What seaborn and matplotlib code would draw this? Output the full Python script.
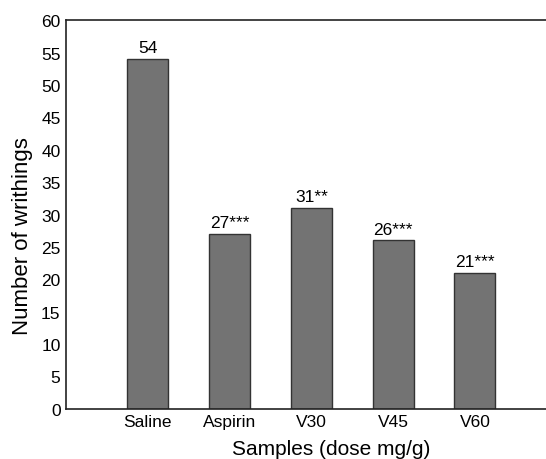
import matplotlib
matplotlib.use("Agg")
import matplotlib.pyplot as plt
import seaborn as sns
import pandas as pd

samples = ["Saline", "Aspirin", "V30", "V45", "V60"]
writhings = [54, 27, 31, 26, 21]
labels = ["54", "27***", "31**", "26***", "21***"]

sns.set_style("white")
plt.rcParams['font.family'] = ['Liberation Sans', 'DejaVu Sans']
plt.rcParams['text.color'] = 'black'
plt.rcParams['axes.labelcolor'] = 'black'
plt.rcParams['xtick.color'] = 'black'
plt.rcParams['ytick.color'] = 'black'

df = pd.DataFrame({"sample": samples, "n": writhings})

fig = plt.figure(figsize=(5.46, 4.60), dpi=100)
ax = fig.add_axes([0.121, 0.109, 0.879, 0.845])
sns.barplot(data=df, x="sample", y="n", color="#737373", saturation=1,
            width=0.5, edgecolor="#333333", linewidth=1, ax=ax)

for i, (v, t) in enumerate(zip(writhings, labels)):
    ax.text(i, v + 0.6, t, ha="center", va="bottom", fontsize=12.5)

ax.set_xlim(-1.0, 4.87)
ax.set_ylim(0, 60)
ax.set_yticks(range(0, 61, 5))
ax.tick_params(axis="both", labelsize=12.5, length=0, pad=4)
ax.set_xlabel("Samples (dose mg/g)", fontsize=15)
ax.set_ylabel("Number of writhings", fontsize=16)
ax.xaxis.set_label_coords(0.553, -0.078)
ax.yaxis.set_label_coords(-0.068, 0.447)
for s in ["left", "bottom", "top"]:
    ax.spines[s].set_color("#222222")
    ax.spines[s].set_linewidth(1.2)
ax.spines["right"].set_visible(False)

fig.savefig("out.png", dpi=100)
